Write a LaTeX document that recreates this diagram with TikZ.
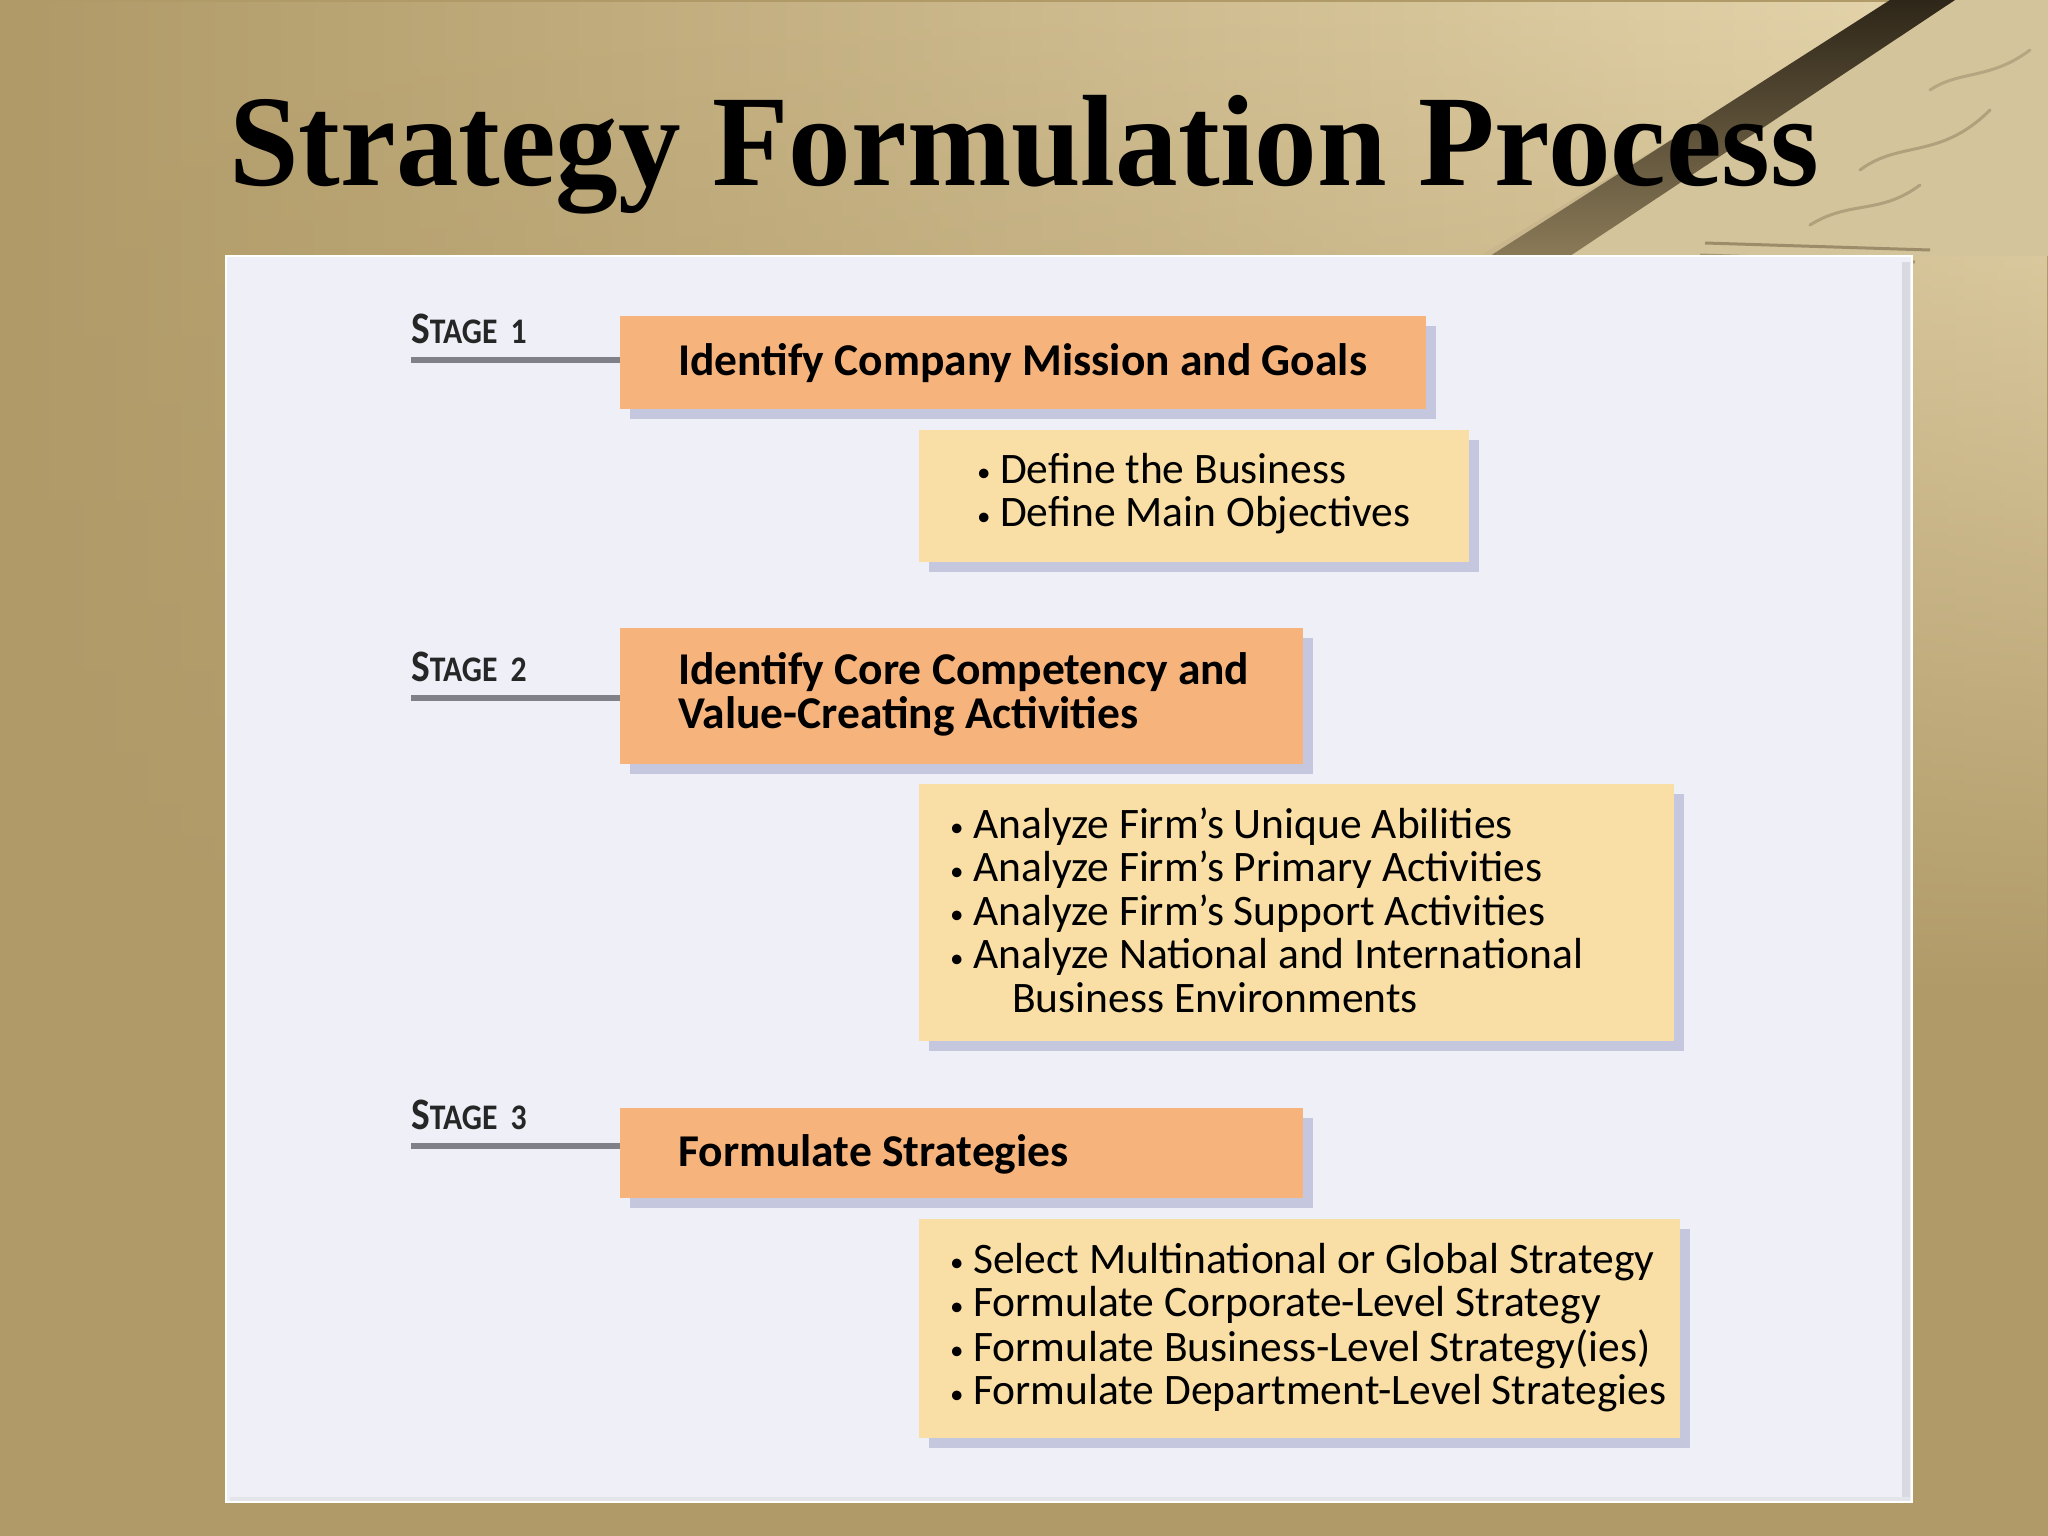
\documentclass[tikz,border=0pt]{standalone}
\usepackage{fontspec}
\setmainfont{Liberation Serif}
\newfontfamily\titlefont[FakeStretch=0.963]{Liberation Serif}
\newfontfamily\carlito{Carlito}
\newfontfamily\stagefont[FakeStretch=0.88]{Carlito}
\usetikzlibrary{shadows,fadings}
\definecolor{bgbase}{HTML}{B09A68}
\definecolor{bglight}{HTML}{E8D8B0}
\definecolor{paperc}{HTML}{D4C49C}
\definecolor{penedge}{HTML}{C9B68C}
\definecolor{pendark}{HTML}{2E2618}
\definecolor{penmid}{HTML}{8A7A58}
\definecolor{panelc}{HTML}{EFEFF8}
\definecolor{panelshade}{HTML}{D9D9E2}
\definecolor{orangec}{HTML}{F6B47C}
\definecolor{yellowc}{HTML}{F9DFA6}
\definecolor{shadowc}{HTML}{C4C7DE}
\definecolor{linegray}{HTML}{808088}
\definecolor{inkc}{HTML}{6E5E40}
\tikzfading[name=fadedown, top color=transparent!0, bottom color=transparent!100]
\newcommand\bitem{\makebox[23pt][l]{\raisebox{1.5pt}{\fontsize{27}{27}\selectfont•}}}
\tikzset{
  boxshadow/.style={drop shadow={shadow xshift=10pt, shadow yshift=-10pt, fill=shadowc, opacity=1}},
  stagebox/.style={fill=orangec, draw=none, inner sep=0pt, anchor=north west, boxshadow},
  detailbox/.style={fill=yellowc, draw=none, inner sep=0pt, anchor=north west, boxshadow},
  boxtitle/.style={font=\carlito\bfseries\fontsize{45.5}{43}\selectfont, inner sep=0pt, anchor=base west, text=black},
  detailtext/.style={font=\carlito\fontsize{43.5}{43.5}\selectfont, inner sep=0pt, anchor=base west, text=black},
  stagelabel/.style={font=\stagefont\bfseries, inner sep=0pt, anchor=base west, text=black!85},
  stageline/.style={draw=linegray, line width=6.5pt},
  titlestyle/.style={font=\titlefont\bfseries\fontsize{130}{130}\selectfont, inner sep=0pt, anchor=base west, text=black}
}
\newcommand\stagetext[1]{{\fontsize{45}{45}\selectfont S}{\fontsize{36}{36}\selectfont TAGE\ \,#1}}
\begin{document}
\begin{tikzpicture}[x=1pt,y=-1pt]
\useasboundingbox (0,0) rectangle (2048,1536);
% background
\fill[bgbase] (0,0) rectangle (2048,1536);
\shade[left color=bgbase, right color=bglight, path fading=fadedown] (0,0) rectangle (2048,1000);
% paper and pen at top right
\fill[paperc] (1945,0) -- (2048,0) -- (2048,256) -- (1560,256) -- cycle;
\fill[penedge] (1480,256) -- (1560,256) -- (1950,0) -- (1900,0) -- cycle;
\shade[top color=pendark, bottom color=penmid] (1890,0) -- (1955,0) -- (1570,256) -- (1490,256) -- cycle;
\draw[inkc, line width=3pt, opacity=.55] (1705,243) -- (1930,250);
\draw[inkc, line width=3pt, opacity=.45] (1700,255) -- (1915,262);
\draw[inkc, line width=3pt, opacity=.35, line cap=round] (1860,170) .. controls (1900,140) and (1940,160) .. (1990,110);
\draw[inkc, line width=3pt, opacity=.35, line cap=round] (1810,225) .. controls (1850,200) and (1880,215) .. (1920,185);
\draw[inkc, line width=3pt, opacity=.3, line cap=round] (1930,90) .. controls (1960,70) and (1990,80) .. (2030,50);
% title
\node[titlestyle] (title) at (229,185) {Strategy Formulation Process};
% panel
\fill[white] (225,255) rectangle (1913,1503);
\fill[panelc] (227,257) rectangle (1911,1501);
\fill[panelshade] (1902,262) rectangle (1910,1498);
\fill[panelshade!70] (230,1497) rectangle (1910,1501);
% Stage 1
\node[stagelabel] (s1) at (411,343) {\stagetext{1}};
\node[stagebox, minimum width=806pt, minimum height=93pt] (b1) at (620,316) {};
\coordinate (l1) at (411,360);
\draw[stageline] (l1) -- (l1 -| b1.west);
\node[boxtitle] (b1t) at (678,375) {Identify Company Mission and Goals};
\node[detailbox, minimum width=550pt, minimum height=132pt] (d1) at (919,430) {};
\node[detailtext] (d1t) at (977,483) {\begin{tabular}[t]{@{}l@{}}\bitem Define the Business\\ \bitem Define Main Objectives\end{tabular}};
% Stage 2
\node[stagelabel] (s2) at (411,681) {\stagetext{2}};
\node[stagebox, minimum width=683pt, minimum height=136pt] (b2) at (620,628) {};
\coordinate (l2) at (411,698);
\draw[stageline] (l2) -- (l2 -| b2.west);
\node[boxtitle] (b2t) at (678,684) {\begin{tabular}[t]{@{}l@{}}Identify Core Competency and\\ Value-Creating Activities\end{tabular}};
\node[detailbox, minimum width=755pt, minimum height=257pt] (d2) at (919,784) {};
\node[detailtext] (d2t) at (950,838) {\begin{tabular}[t]{@{}l@{}}\bitem Analyze Firm’s Unique Abilities\\ \bitem Analyze Firm’s Primary Activities\\ \bitem Analyze Firm’s Support Activities\\ \bitem Analyze National and International\\ \hspace*{62pt}Business Environments\end{tabular}};
% Stage 3
\node[stagelabel] (s3) at (411,1129) {\stagetext{3}};
\node[stagebox, minimum width=683pt, minimum height=90pt] (b3) at (620,1108) {};
\coordinate (l3) at (411,1146);
\draw[stageline] (l3) -- (l3 -| b3.west);
\node[boxtitle] (b3t) at (678,1166) {Formulate Strategies};
\node[detailbox, minimum width=761pt, minimum height=219pt] (d3) at (919,1219) {};
\node[detailtext] (d3t) at (950,1273) {\begin{tabular}[t]{@{}l@{}}\bitem Select Multinational or Global Strategy\\ \bitem Formulate Corporate-Level Strategy\\ \bitem Formulate Business-Level Strategy(ies)\\ \bitem Formulate Department-Level Strategies\end{tabular}};
\end{tikzpicture}
\end{document}
